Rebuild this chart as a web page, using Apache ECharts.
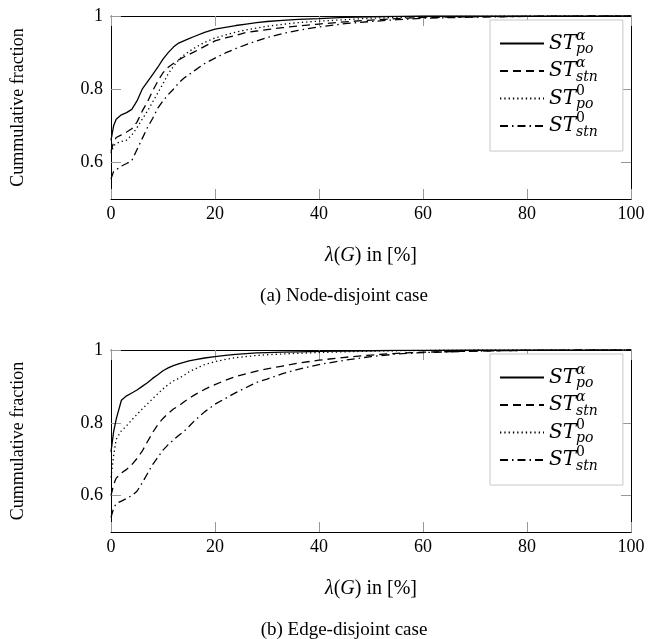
<!DOCTYPE html>
<html>
<head>
<meta charset="utf-8">
<script src="https://cdn.jsdelivr.net/npm/echarts@6/dist/echarts.min.js"></script>
<style>
  html, body { margin: 0; padding: 0; background: #fff; }
  #chart { width: 652px; height: 639px; }
</style>
</head>
<body>
<div id="chart"></div>
<script>
// ---- data ----
const lambdaPct = [0, 0.5, 1, 2, 3, 4, 5, 6, 7, 8, 9, 10, 11, 12, 13, 14, 15, 16, 18, 20, 22, 24, 26, 28, 30, 33, 36, 40, 45, 50, 55, 60, 70, 80, 90, 100];

// (a) Node-disjoint case
const nodePoAlpha  = [0.66, 0.70, 0.718, 0.73, 0.736, 0.745, 0.768, 0.80, 0.82, 0.84, 0.86, 0.882, 0.90, 0.915, 0.926, 0.932, 0.938, 0.944, 0.955, 0.964, 0.969, 0.974, 0.978, 0.982, 0.985, 0.988, 0.991, 0.993, 0.996, 0.998, 0.999, 1, 1, 1, 1, 1];
const nodeStnAlpha = [0.63, 0.655, 0.668, 0.675, 0.683, 0.692, 0.71, 0.74, 0.765, 0.795, 0.822, 0.845, 0.86, 0.87, 0.88, 0.888, 0.895, 0.902, 0.917, 0.932, 0.94, 0.947, 0.955, 0.959, 0.963, 0.968, 0.973, 0.978, 0.984, 0.989, 0.993, 0.996, 0.998, 0.999, 1, 1];
const nodePoZero   = [0.625, 0.645, 0.652, 0.657, 0.661, 0.675, 0.695, 0.718, 0.74, 0.765, 0.79, 0.815, 0.842, 0.862, 0.88, 0.893, 0.903, 0.912, 0.928, 0.94, 0.948, 0.956, 0.962, 0.967, 0.972, 0.977, 0.982, 0.986, 0.99, 0.994, 0.996, 0.998, 0.999, 1, 1, 1];
const nodeStnZero  = [0.555, 0.575, 0.58, 0.59, 0.597, 0.605, 0.635, 0.665, 0.695, 0.72, 0.748, 0.768, 0.785, 0.80, 0.817, 0.83, 0.84, 0.85, 0.87, 0.885, 0.899, 0.911, 0.922, 0.932, 0.941, 0.952, 0.961, 0.97, 0.979, 0.985, 0.99, 0.994, 0.997, 0.999, 1, 1];

// (b) Edge-disjoint case
const edgePoAlpha  = [0.72, 0.775, 0.81, 0.862, 0.874, 0.882, 0.89, 0.9, 0.91, 0.922, 0.932, 0.943, 0.951, 0.957, 0.962, 0.966, 0.97, 0.973, 0.978, 0.982, 0.985, 0.988, 0.99, 0.992, 0.993, 0.994, 0.995, 0.996, 0.997, 0.998, 0.999, 0.999, 1, 1, 1, 1];
const edgeStnAlpha = [0.6, 0.63, 0.648, 0.662, 0.672, 0.685, 0.702, 0.722, 0.748, 0.773, 0.795, 0.812, 0.826, 0.838, 0.846, 0.857, 0.867, 0.876, 0.892, 0.905, 0.917, 0.927, 0.935, 0.942, 0.948, 0.956, 0.964, 0.972, 0.98, 0.986, 0.991, 0.994, 0.997, 0.999, 1, 1];
const edgePoZero   = [0.65, 0.71, 0.755, 0.778, 0.792, 0.808, 0.823, 0.838, 0.852, 0.866, 0.88, 0.893, 0.905, 0.915, 0.922, 0.93, 0.94, 0.947, 0.96, 0.968, 0.974, 0.979, 0.982, 0.985, 0.987, 0.989, 0.991, 0.993, 0.995, 0.997, 0.998, 0.999, 1, 1, 1, 1];
const edgeStnZero  = [0.54, 0.565, 0.578, 0.585, 0.592, 0.6, 0.612, 0.635, 0.66, 0.685, 0.705, 0.725, 0.74, 0.753, 0.765, 0.776, 0.79, 0.805, 0.83, 0.851, 0.867, 0.883, 0.897, 0.911, 0.92, 0.935, 0.947, 0.96, 0.972, 0.982, 0.989, 0.993, 0.997, 0.999, 1, 1];

const yTickValues = [0.6, 0.8, 1];
const seriesNames = ['ST_po^α', 'ST_stn^α', 'ST_po^0', 'ST_stn^0'];
const legendRich = {
  'ST_po^α':  '{st|ST}{sup|α}{sub|po}',
  'ST_stn^α': '{st|ST}{sup|α}{sub|stn}',
  'ST_po^0':  '{st|ST}{sup0|0}{sub|po}',
  'ST_stn^0': '{st|ST}{sup0|0}{sub|stn}'
};
const captions = ['(a) Node-disjoint case', '(b) Edge-disjoint case'];

// ---- styles ----
const FONT = 'Liberation Serif';
const MATH = 'DejaVu Serif';
const dashStyles = ['solid', [8, 5], [1.3, 3], [8, 4, 1.5, 4]];

function pairs(ys) { return lambdaPct.map((x, i) => [x, ys[i]]); }

const grids = [
  { left: 111, top: 16, width: 520, height: 183 },
  { left: 111, top: 350, width: 520, height: 182 }
];

const xAxes = [], yAxes = [];
grids.forEach((g, gi) => {
  xAxes.push({
    type: 'value', gridIndex: gi, min: 0, max: 100, interval: 20, position: 'bottom',
    name: '{m|λ}{r|(}{m|G}{r|) in [%]}', nameLocation: 'middle', nameGap: 47,
    nameTextStyle: { rich: {
      m: { fontFamily: FONT, fontStyle: 'italic', fontSize: 20, color: '#000' },
      r: { fontFamily: FONT, fontSize: 20, color: '#000' } } },
    axisLine: { show: true, onZero: false, lineStyle: { color: '#000', width: 1 } },
    axisTick: { show: true, inside: true, length: 10, lineStyle: { color: '#999' } },
    axisLabel: { fontFamily: FONT, fontSize: 18, color: '#000', margin: 6 },
    splitLine: { show: false }
  });
  xAxes.push({
    type: 'value', gridIndex: gi, min: 0, max: 100, interval: 20, position: 'top',
    axisLine: { show: true, onZero: false, lineStyle: { color: '#000', width: 1 } },
    axisTick: { show: true, inside: true, length: 10, lineStyle: { color: '#999' } },
    axisLabel: { show: false }, splitLine: { show: false }
  });
  yAxes.push({
    type: 'value', gridIndex: gi, min: 0.5, max: 1, position: 'left',
    name: 'Cummulative fraction', nameLocation: 'middle', nameGap: 84, nameRotate: 90,
    nameTextStyle: { fontFamily: FONT, fontSize: 18, color: '#000' },
    axisLine: { show: true, onZero: false, lineStyle: { color: '#000', width: 1 } },
    axisTick: { show: true, inside: true, length: 10, customValues: yTickValues, lineStyle: { color: '#999' } },
    axisLabel: { fontFamily: FONT, fontSize: 18, color: '#000', margin: 8, customValues: yTickValues,
      formatter: v => (v === 1 ? '1' : v.toFixed(1)) },
    splitLine: { show: false }
  });
  yAxes.push({
    type: 'value', gridIndex: gi, min: 0.5, max: 1, position: 'right',
    axisLine: { show: true, onZero: false, lineStyle: { color: '#000', width: 1 } },
    axisTick: { show: true, inside: true, length: 10, customValues: yTickValues, lineStyle: { color: '#999' } },
    axisLabel: { show: false }, splitLine: { show: false }
  });
});

const dataSets = [
  [nodePoAlpha, nodeStnAlpha, nodePoZero, nodeStnZero],
  [edgePoAlpha, edgeStnAlpha, edgePoZero, edgeStnZero]
];
const series = [];
dataSets.forEach((set, gi) => {
  set.forEach((ys, si) => {
    series.push({
      type: 'line', name: seriesNames[si],
      xAxisIndex: gi * 2, yAxisIndex: gi * 2,
      data: pairs(ys), showSymbol: false, symbol: 'none', smooth: false,
      lineStyle: { color: '#000', width: 1.3, type: dashStyles[si] },
      itemStyle: { color: '#000' }
    });
  });
});

const legendTextRich = {
  st:   { fontFamily: MATH, fontStyle: 'italic', fontSize: 20, color: '#000' },
  sup:  { fontFamily: MATH, fontStyle: 'italic', fontSize: 14, color: '#000', width: 0, padding: [0, 0, 15, 0] },
  sup0: { fontFamily: MATH, fontSize: 14, color: '#000', width: 0, padding: [0, 0, 15, 0] },
  sub:  { fontFamily: MATH, fontStyle: 'italic', fontSize: 14, color: '#000', padding: [12, 0, 0, 0] }
};
const legends = [20, 354].map(top => ({
  top: top, left: 490, orient: 'vertical',
  itemWidth: 44, itemHeight: 12, itemGap: 0,
  padding: [9, 25, 12, 9],
  borderColor: '#c8c8c8', borderWidth: 1, backgroundColor: '#fff',
  itemStyle: { opacity: 0 },
  data: seriesNames,
  formatter: name => legendRich[name],
  textStyle: { rich: legendTextRich }
}));

const titles = captions.map((t, i) => ({
  text: t, left: 344, top: i === 0 ? 287 : 621, textAlign: 'center', padding: 0,
  textStyle: { fontFamily: FONT, fontSize: 19, fontWeight: 'normal', color: '#000' }
}));

const chart = echarts.init(document.getElementById('chart'), null, { renderer: 'canvas' });
chart.setOption({
  animation: false,
  backgroundColor: '#fff',
  title: titles,
  grid: grids,
  xAxis: xAxes,
  yAxis: yAxes,
  legend: legends,
  series: series
});
</script>
</body>
</html>
